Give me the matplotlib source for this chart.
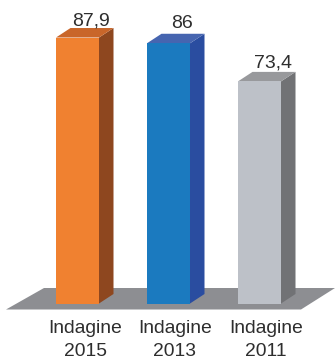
import matplotlib
matplotlib.use("Agg")
import matplotlib.pyplot as plt
from matplotlib.patches import Polygon

plt.rcParams['font.family'] = ['Liberation Sans', 'DejaVu Sans']

# Survey editions and their values
categories = ["Indagine\n2015", "Indagine\n2013", "Indagine\n2011"]
values = [87.9, 86, 73.4]
value_labels = ["87,9", "86", "73,4"]

front_colors = ["#F08130", "#1B7ABF", "#BDC1C8"]
top_colors = ["#C9662A", "#4665B0", "#98999C"]
side_colors = ["#8E471F", "#2A4DA0", "#717275"]
floor_color = "#8D8E92"
text_color = "#2E2E2E"

W, H = 335, 357
PX_X = 91.0      # pixels per category step
PX_Y = 3.026     # pixels per value unit
X0 = 77.5        # pixel position of the first bar's centre
Y0 = 303.5       # pixel row of value zero

# Pixel nudges for the text above and below each box
value_lift = [12.5, 15, 14.3]
category_shift = [7.8, 6.5, 6.2]

fig = plt.figure(figsize=(W / 100, H / 100), dpi=100)
ax = fig.add_axes([0, 0, 1, 1])
ax.set_xlim(-X0 / PX_X, (W - X0) / PX_X)
ax.set_ylim(-(H - Y0) / PX_Y, Y0 / PX_Y)
ax.axis("off")

bar_w = 43 / PX_X
dx = 14.5 / PX_X   # oblique depth of the 3D boxes
dy = 9.5 / PX_Y

# Floor plane beneath the boxes
floor = Polygon([(-71.5 / PX_X, -6 / PX_Y), (-33.5 / PX_X, 15.5 / PX_Y),
                 (257.5 / PX_X, 15.5 / PX_Y), (223.5 / PX_X, -6 / PX_Y)],
                closed=True, fc=floor_color, ec="none", zorder=1)
ax.add_patch(floor)

positions = list(range(len(values)))
ax.bar(positions, values, width=bar_w, color=front_colors, linewidth=0, zorder=4)

for i, (x, v, top_c, side_c, lab, cat) in enumerate(zip(positions, values, top_colors, side_colors,
                                                         value_labels, categories)):
    left, right = x - bar_w / 2, x + bar_w / 2
    ax.add_patch(Polygon([(right, 0), (right + dx, dy), (right + dx, v + dy), (right, v)],
                         closed=True, fc=side_c, ec="none", zorder=3))
    ax.add_patch(Polygon([(left, v), (left + dx, v + dy), (right + dx, v + dy), (right, v)],
                         closed=True, fc=top_c, ec="none", zorder=3))
    ax.annotate(lab, xy=(x, v), xytext=(14, value_lift[i]), textcoords="offset pixels",
                ha="center", va="baseline", fontsize=14, color=text_color, zorder=5)
    ax.annotate(cat, xy=(x, 0), xytext=(category_shift[i], -52), textcoords="offset pixels",
                ha="center", va="baseline", fontsize=13.9, color=text_color,
                linespacing=1.4, annotation_clip=False, zorder=5)

fig.savefig("out.png", dpi=100)
